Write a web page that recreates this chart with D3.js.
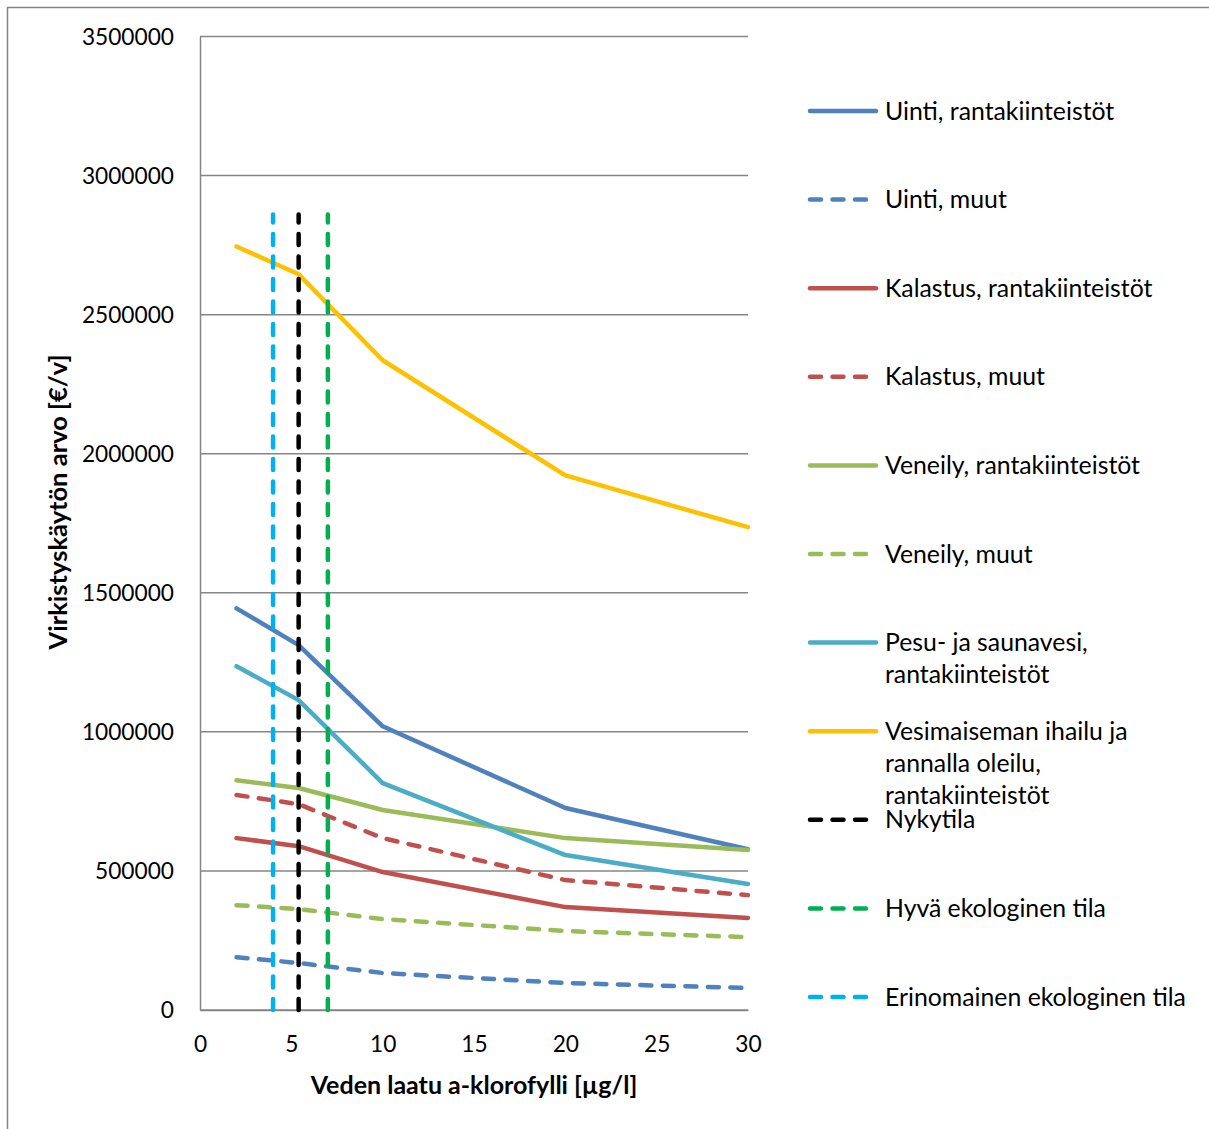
<!DOCTYPE html>
<html>
<head>
<meta charset="utf-8">
<script src="https://cdn.jsdelivr.net/npm/d3@7"></script>
<style>
  html, body { margin: 0; padding: 0; background: #fff; }
  svg { display: block; }
  text { font-family: Lato, "Open Sans", sans-serif; fill: #000; }
</style>
</head>
<body>
<svg id="chart" width="1209" height="1129"></svg>
<script>
// Chlorophyll-a concentration (µg/l) at which the values were computed
const chlorophyll = [2, 5.4, 10, 20, 30];

// Recreational value (€/year) per use category
const uintiRanta     = [1444000, 1312000, 1020000, 726000, 578000];
const uintiMuut      = [190000, 169000, 133000, 97000, 79000];
const kalastusRanta  = [618000, 589000, 496000, 370000, 331000];
const kalastusMuut   = [773000, 740000, 618000, 467000, 413000];
const veneilyRanta   = [826000, 798000, 719000, 618000, 575000];
const veneilyMuut    = [377000, 363000, 327000, 284000, 262000];
const pesuRanta      = [1236000, 1114000, 816000, 557000, 453000];
const maisemaRanta   = [2745000, 2645000, 2336000, 1922000, 1736000];

// Reference states shown as vertical markers
const nykytilaX    = [5.4, 5.4];
const hyvaX        = [7, 7];
const erinomainenX = [4, 4];
const markerY      = [0, 2860000];

// Axis ticks
const yTicks = [0, 500000, 1000000, 1500000, 2000000, 2500000, 3000000, 3500000];
const xTicks = [0, 5, 10, 15, 20, 25, 30];

const series = [
  { name: ["Uinti, rantakiinteistöt"], xs: chlorophyll, ys: uintiRanta, color: "#4F81BD", dashed: false },
  { name: ["Uinti, muut"], xs: chlorophyll, ys: uintiMuut, color: "#4F81BD", dashed: true },
  { name: ["Kalastus, rantakiinteistöt"], xs: chlorophyll, ys: kalastusRanta, color: "#C0504D", dashed: false },
  { name: ["Kalastus, muut"], xs: chlorophyll, ys: kalastusMuut, color: "#C0504D", dashed: true },
  { name: ["Veneily, rantakiinteistöt"], xs: chlorophyll, ys: veneilyRanta, color: "#9BBB59", dashed: false },
  { name: ["Veneily, muut"], xs: chlorophyll, ys: veneilyMuut, color: "#9BBB59", dashed: true },
  { name: ["Pesu- ja saunavesi,", "rantakiinteistöt"], xs: chlorophyll, ys: pesuRanta, color: "#4BACC6", dashed: false },
  { name: ["Vesimaiseman ihailu ja", "rannalla oleilu,", "rantakiinteistöt"], xs: chlorophyll, ys: maisemaRanta, color: "#FFC000", dashed: false },
  { name: ["Nykytila"], xs: nykytilaX, ys: markerY, color: "#000000", dashed: true },
  { name: ["Hyvä ekologinen tila"], xs: hyvaX, ys: markerY, color: "#00B050", dashed: true },
  { name: ["Erinomainen ekologinen tila"], xs: erinomainenX, ys: markerY, color: "#00B0F0", dashed: true }
];

const svg = d3.select("#chart");

// Outer chart frame
svg.append("rect")
  .attr("x", 7.5).attr("y", 7.5)
  .attr("width", 1260).attr("height", 1160)
  .attr("fill", "none").attr("stroke", "#868686").attr("stroke-width", 1.5);

const plot = { left: 200, right: 748, top: 36.5, bottom: 1010 };

const x = d3.scaleLinear().domain([0, 30]).range([plot.left, plot.right]);
const y = d3.scaleLinear().domain([0, 3500000]).range([plot.bottom, plot.top]);

// Horizontal gridlines
svg.append("g")
  .selectAll("line")
  .data(yTicks)
  .join("line")
  .attr("x1", plot.left).attr("x2", plot.right)
  .attr("y1", d => y(d)).attr("y2", d => y(d))
  .attr("stroke", "#868686").attr("stroke-width", 1.5);

// Y axis
const yAxis = svg.append("g")
  .attr("transform", `translate(${plot.left},0)`)
  .call(d3.axisLeft(y).tickValues(yTicks).tickSize(0).tickPadding(26).tickFormat(d3.format("d")));
yAxis.select(".domain").attr("stroke", "#868686").attr("stroke-width", 1.5);
yAxis.selectAll("text")
  .attr("font-size", 22.7).attr("font-family", "Lato, sans-serif").attr("fill", "#000")
  .attr("dy", "0.35em");

// X axis
const xAxis = svg.append("g")
  .attr("transform", `translate(0,${plot.bottom})`)
  .call(d3.axisBottom(x).tickValues(xTicks).tickSize(0).tickPadding(26).tickFormat(d3.format("d")));
xAxis.select(".domain").attr("stroke", "#868686").attr("stroke-width", 1.5);
xAxis.selectAll("text")
  .attr("font-size", 22.7).attr("font-family", "Lato, sans-serif").attr("fill", "#000");

// Axis titles
svg.append("text")
  .attr("transform", `translate(67,502) rotate(-90)`)
  .attr("text-anchor", "middle")
  .attr("font-size", 25.5).attr("font-weight", "bold")
  .text("Virkistyskäytön arvo [€/v]");

svg.append("text")
  .attr("x", 474).attr("y", 1094)
  .attr("text-anchor", "middle")
  .attr("font-size", 25).attr("font-weight", "bold")
  .text("Veden laatu a-klorofylli [µg/l]");

// Series lines
const line = d3.line().x(d => x(d[0])).y(d => y(d[1]));

svg.append("g")
  .selectAll("path")
  .data(series)
  .join("path")
  .attr("d", s => line(s.xs.map((v, i) => [v, s.ys[i]])))
  .attr("fill", "none")
  .attr("stroke", s => s.color)
  .attr("stroke-width", 4.5)
  .attr("stroke-linecap", "round")
  .attr("stroke-linejoin", "round")
  .attr("stroke-dasharray", s => s.dashed ? "11,11.5" : null);

// Legend
const legendTop = 111;
const legendStep = 88.6;
const legend = svg.append("g");
series.forEach((s, i) => {
  const cy = legendTop + i * legendStep;
  legend.append("line")
    .attr("x1", 810).attr("x2", s.dashed ? 868 : 876)
    .attr("y1", cy).attr("y2", cy)
    .attr("stroke", s.color)
    .attr("stroke-width", 4.5)
    .attr("stroke-linecap", "round")
    .attr("stroke-dasharray", s.dashed ? "11,11.5" : null);
  s.name.forEach((t, j) => {
    legend.append("text")
      .attr("x", 885)
      .attr("y", cy + j * 32)
      .attr("dy", "0.35em")
      .attr("font-size", 24.8)
      .text(t);
  });
});
</script>
</body>
</html>
